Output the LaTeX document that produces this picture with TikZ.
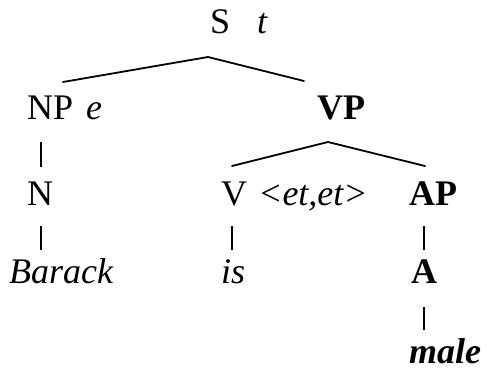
\documentclass[tikz,border=0pt]{standalone}
\usepackage{fontspec}
\setmainfont{Liberation Serif}
\begin{document}
\begin{tikzpicture}[x=1pt,y=-1pt,
  lbl/.style={anchor=base west, inner sep=0pt, font=\fontsize{36}{43}\selectfont},
  branch/.style={line width=1.8pt, line cap=round},
  bar/.style={line width=1.6pt}]
\useasboundingbox (0,0) rectangle (487,381);

% category labels and types
\node[lbl] (s)      at (210,33)  {S};
\node[lbl] (st)     at (257,33)  {\textit{t}};
\node[lbl] (np)     at (27,119)  {NP};
\node[lbl] (npt)    at (86,119)  {\textit{e}};
\node[lbl] (vp)     at (317,119) {\textbf{VP}};
\node[lbl] (n)      at (27,205)  {N};
\node[lbl] (v)      at (221,205) {V};
\node[lbl] (vt)     at (258,205) {\textit{<et,et>}};
\node[lbl] (ap)     at (409,205) {\textbf{AP}};
\node[lbl] (barack) at (9,283)   {\textit{Barack}};
\node[lbl] (is)     at (221,283) {\textit{is}};
\node[lbl] (a)      at (411,283) {\textbf{A}};
\node[lbl] (male)   at (409,363) {\textbf{\textit{male}}};

% branch end points
\coordinate (sTop)   at (208,57);
\coordinate (npUp)   at (63,82);
\coordinate (vpUp)   at (304,81);
\coordinate (vpTop)  at (328,142);
\coordinate (vUp)    at (232,166);
\coordinate (apUp)   at (425,166);
\coordinate (npDn)   at (41,142);
\coordinate (nUp)    at (41,167);
\coordinate (nDn)    at (41,226);
\coordinate (barUp)  at (41,250);
\coordinate (vDn)    at (232,226);
\coordinate (isUp)   at (232,250);
\coordinate (apDn)   at (424,226);
\coordinate (aUp)    at (424,250);
\coordinate (aDn)    at (424,307);
\coordinate (maleUp) at (424,330);

% branches
\draw[branch] (npUp) -- (sTop) -- (vpUp);
\draw[branch] (vUp) -- (vpTop) -- (apUp);

% unary bars
\draw[bar] (npDn) -- (nUp);
\draw[bar] (nDn) -- (barUp);
\draw[bar] (vDn) -- (isUp);
\draw[bar] (apDn) -- (aUp);
\draw[bar] (aDn) -- (maleUp);
\end{tikzpicture}
\end{document}
